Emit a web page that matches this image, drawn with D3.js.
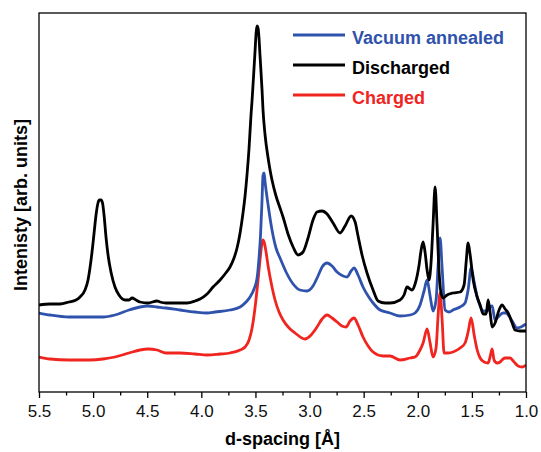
<!DOCTYPE html>
<html>
<head>
<meta charset="utf-8">
<script src="https://cdn.jsdelivr.net/npm/d3@7/dist/d3.min.js"></script>
<style>
  html, body { margin: 0; padding: 0; background: #fff; }
  svg { display: block; }
  text { font-family: "Liberation Sans", Arial, Helvetica, sans-serif; }
</style>
</head>
<body>
<svg id="chart" width="541" height="452"></svg>
<script>
// d-spacing (Å) vs. intensity (arb. units), offset traces
const discharged = [
  [5.500, 87], [5.398, 88], [5.306, 88], [5.223, 90], [5.158, 92], [5.121, 95],
  [5.075, 102], [5.047, 112], [5.029, 124], [5.010, 140], [4.992, 158], [4.973, 177],
  [4.955, 189], [4.941, 192], [4.927, 192], [4.913, 189], [4.899, 177], [4.880, 154],
  [4.862, 137], [4.835, 120], [4.798, 105], [4.761, 97], [4.705, 92], [4.668, 92],
  [4.640, 94], [4.604, 92], [4.567, 90], [4.493, 89], [4.409, 91], [4.382, 90],
  [4.326, 89], [4.197, 89], [4.132, 89], [4.058, 91], [4.012, 93], [3.947, 98],
  [3.892, 105], [3.827, 112], [3.781, 118], [3.735, 125], [3.698, 134], [3.670, 144],
  [3.642, 159], [3.615, 179], [3.596, 196], [3.578, 217], [3.559, 244], [3.541, 277],
  [3.531, 292], [3.513, 324], [3.503, 342], [3.494, 359], [3.485, 366], [3.476, 364],
  [3.467, 354], [3.458, 337], [3.439, 302], [3.430, 282], [3.411, 257], [3.383, 234],
  [3.365, 222], [3.347, 212], [3.310, 196], [3.273, 184], [3.245, 175], [3.199, 158],
  [3.152, 145], [3.106, 137], [3.060, 140], [3.014, 154], [2.968, 172], [2.931, 180],
  [2.884, 181], [2.838, 178], [2.783, 169], [2.718, 159], [2.672, 166], [2.616, 176],
  [2.579, 170], [2.552, 156], [2.515, 137], [2.469, 119], [2.413, 102], [2.367, 91],
  [2.302, 89], [2.256, 89], [2.164, 92], [2.127, 97], [2.099, 105], [2.071, 103],
  [2.053, 102], [2.025, 108], [1.988, 127], [1.969, 142], [1.951, 150], [1.933, 140],
  [1.914, 122], [1.896, 112], [1.877, 130], [1.859, 167], [1.840, 205], [1.822, 167],
  [1.803, 120], [1.785, 99], [1.766, 94], [1.729, 97], [1.674, 99], [1.609, 100],
  [1.572, 107], [1.553, 130], [1.535, 149], [1.516, 137], [1.488, 112], [1.451, 95],
  [1.424, 87], [1.396, 78], [1.368, 78], [1.350, 92], [1.332, 80], [1.313, 65],
  [1.286, 69], [1.249, 82], [1.221, 87], [1.193, 83], [1.165, 79], [1.128, 69],
  [1.101, 62], [1.055, 61], [1.000, 61]
];

const vacuumAnnealed = [
  [5.500, 79], [5.398, 77], [5.223, 75], [5.029, 75], [4.908, 75], [4.798, 77],
  [4.668, 82], [4.567, 85], [4.493, 86], [4.409, 85], [4.326, 84], [4.197, 82],
  [4.058, 80], [3.947, 79], [3.873, 80], [3.735, 82], [3.642, 85], [3.587, 90],
  [3.550, 95], [3.513, 103], [3.485, 114], [3.467, 134], [3.453, 157], [3.439, 192],
  [3.430, 217], [3.420, 219], [3.411, 210], [3.383, 187], [3.347, 162], [3.310, 144],
  [3.273, 134], [3.217, 120], [3.152, 108], [3.088, 102], [3.023, 101], [2.968, 106],
  [2.922, 116], [2.884, 125], [2.838, 129], [2.792, 126], [2.746, 120], [2.690, 116],
  [2.653, 115], [2.616, 121], [2.589, 124], [2.552, 117], [2.506, 105], [2.459, 96],
  [2.413, 89], [2.348, 82], [2.256, 79], [2.164, 76], [2.071, 77], [2.025, 79],
  [1.979, 87], [1.942, 101], [1.914, 112], [1.886, 96], [1.859, 81], [1.831, 92],
  [1.812, 127], [1.794, 154], [1.775, 124], [1.748, 82], [1.711, 80], [1.674, 82],
  [1.609, 85], [1.563, 89], [1.535, 102], [1.507, 124], [1.479, 110], [1.451, 95],
  [1.424, 86], [1.396, 81], [1.359, 81], [1.332, 85], [1.313, 86], [1.286, 72],
  [1.258, 75], [1.212, 79], [1.184, 79], [1.156, 76], [1.128, 71], [1.082, 64],
  [1.046, 65], [1.000, 68]
];

const charged = [
  [5.500, 35], [5.398, 33], [5.223, 32], [5.029, 32], [4.908, 33], [4.798, 35],
  [4.668, 39], [4.567, 42], [4.493, 43], [4.409, 42], [4.326, 39], [4.197, 39],
  [4.058, 38], [3.947, 37], [3.827, 38], [3.735, 39], [3.642, 42], [3.596, 45],
  [3.559, 52], [3.531, 64], [3.503, 85], [3.476, 112], [3.458, 132], [3.439, 149],
  [3.430, 152], [3.420, 150], [3.402, 140], [3.383, 126], [3.347, 105], [3.319, 92],
  [3.282, 80], [3.245, 72], [3.189, 64], [3.134, 59], [3.042, 53], [2.986, 57],
  [2.931, 65], [2.884, 73], [2.838, 77], [2.792, 74], [2.746, 70], [2.700, 66],
  [2.663, 65], [2.626, 71], [2.589, 74], [2.552, 67], [2.506, 55], [2.459, 46],
  [2.413, 40], [2.321, 36], [2.256, 36], [2.164, 32], [2.071, 34], [2.025, 35],
  [1.979, 42], [1.951, 49], [1.914, 63], [1.886, 49], [1.859, 35], [1.831, 44],
  [1.812, 77], [1.794, 99], [1.775, 72], [1.757, 39], [1.720, 39], [1.674, 40],
  [1.609, 44], [1.563, 49], [1.535, 60], [1.507, 74], [1.479, 57], [1.451, 42],
  [1.424, 34], [1.387, 30], [1.350, 29], [1.332, 35], [1.313, 43], [1.295, 32],
  [1.267, 29], [1.239, 30], [1.212, 33], [1.193, 34], [1.147, 34], [1.110, 30],
  [1.073, 26], [1.036, 25], [1.000, 27]
];

const seriesNames = ["Vacuum annealed", "Discharged", "Charged"];
const seriesColors = ["#2f52ac", "#000000", "#f0251f"];
const majorTicks = [5.5, 5.0, 4.5, 4.0, 3.5, 3.0, 2.5, 2.0, 1.5, 1.0];
const minorTicks = [5.25, 4.75, 4.25, 3.75, 3.25, 2.75, 2.25, 1.75, 1.25];

const svg = d3.select("#chart");
const plot = { left: 39, right: 526, top: 13, bottom: 392 };

const x = d3.scaleLinear().domain([5.5, 1.0]).range([plot.left, plot.right]);
const y = d3.scaleLinear().domain([0, 379]).range([plot.bottom, plot.top]);

const line = d3.line()
  .x(d => x(d[0]))
  .y(d => y(d[1]))
  .curve(d3.curveMonotoneX);

svg.append("defs").append("clipPath").attr("id", "clip")
  .append("rect")
  .attr("x", plot.left).attr("y", plot.top)
  .attr("width", plot.right - plot.left).attr("height", plot.bottom - plot.top);

const traces = [vacuumAnnealed, discharged, charged];
const g = svg.append("g").attr("clip-path", "url(#clip)");
// draw order: charged, vacuum, discharged on top
[2, 0, 1].forEach(i => {
  g.append("path")
    .datum(traces[i])
    .attr("fill", "none")
    .attr("stroke", seriesColors[i])
    .attr("stroke-width", 2.8)
    .attr("stroke-linejoin", "round")
    .attr("d", line);
});

// frame
svg.append("rect")
  .attr("x", plot.left).attr("y", plot.top)
  .attr("width", plot.right - plot.left).attr("height", plot.bottom - plot.top)
  .attr("fill", "none").attr("stroke", "#000").attr("stroke-width", 1.3);

// bottom axis
const xAxis = d3.axisBottom(x)
  .tickValues(majorTicks)
  .tickFormat(d3.format(".1f"))
  .tickSize(6)
  .tickPadding(7);
const ax = svg.append("g").attr("transform", `translate(0,${plot.bottom})`).call(xAxis);
ax.select(".domain").remove();
ax.selectAll(".tick line").attr("stroke-width", 1.3);
ax.selectAll(".tick text")
  .attr("font-size", 17)
  .attr("fill", "#111")
  .style("font-family", "'Liberation Sans', Arial, sans-serif");

const minorAxis = d3.axisBottom(x).tickValues(minorTicks).tickSize(3.5).tickFormat("");
const mx = svg.append("g").attr("transform", `translate(0,${plot.bottom})`).call(minorAxis);
mx.select(".domain").remove();
mx.selectAll(".tick line").attr("stroke-width", 1.3);

// axis titles
svg.append("text")
  .attr("x", (plot.left + plot.right) / 2).attr("y", 445)
  .attr("text-anchor", "middle")
  .attr("font-size", 18).attr("font-weight", "bold")
  .text("d-spacing [Å]");

svg.append("text")
  .attr("transform", "translate(27,205) rotate(-90)")
  .attr("text-anchor", "middle")
  .attr("font-size", 18).attr("font-weight", "bold")
  .text("Intenisty [arb. units]");

// legend
const legend = svg.append("g");
seriesNames.forEach((name, i) => {
  const ly = 35 + i * 30;
  legend.append("line")
    .attr("x1", 293).attr("x2", 345)
    .attr("y1", ly).attr("y2", ly)
    .attr("stroke", seriesColors[i]).attr("stroke-width", 2.8);
  legend.append("text")
    .attr("x", 352).attr("y", ly + 9)
    .attr("font-size", 18).attr("font-weight", "bold")
    .attr("fill", seriesColors[i])
    .text(name);
});
</script>
</body>
</html>
